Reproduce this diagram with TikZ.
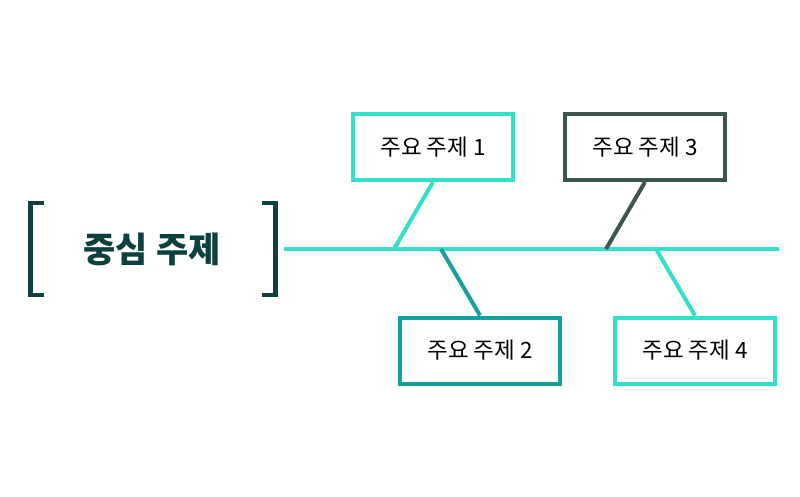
\documentclass[tikz,border=0pt]{standalone}
\usepackage{fontspec}
\setmainfont{Noto Sans CJK KR}
\newfontfamily\krfont{Noto Sans CJK KR}
\definecolor{inkdark}{HTML}{0E4040}
\definecolor{aqua}{HTML}{33E0CC}
\definecolor{tealmid}{HTML}{17A0A0}
\definecolor{slate}{HTML}{3D5550}
\tikzset{
  spine/.style={line width=4pt, draw=aqua},
  bone/.style={line width=4pt, draw=#1},
  topicbox/.style={draw=#1, line width=4pt, fill=white, minimum width=160pt, minimum height=66pt,
    inner sep=0pt, font=\krfont\fontsize{22.5pt}{26pt}\selectfont, text=black},
  bracket/.style={line width=4.5pt, draw=inkdark, line cap=butt}
}
\begin{document}
\begin{tikzpicture}[x=1pt,y=-1pt]
  \useasboundingbox[fill=white] (0,0) rectangle (800,497);

  % central topic with square brackets
  \node[font=\krfont\bfseries\fontsize{35pt}{40pt}\selectfont, text=inkdark] (head) at (152,249) {중심 주제};
  \draw[bracket] (44,203) -- (30.5,203) -- (30.5,295) -- (44,295);
  \draw[bracket] (262,203) -- (275.5,203) -- (275.5,295) -- (262,295);

  % spine
  \coordinate (s0) at (284,249);
  \coordinate (s1) at (394,249);
  \coordinate (s2) at (441,249);
  \coordinate (s3) at (606,249);
  \coordinate (s4) at (656,249);
  \coordinate (s5) at (779,249);
  \draw[spine] (s0) -- (s5);

  % major topics
  \node[topicbox=aqua]    (t1) at (433,147)   {주요 주제 1};
  \node[topicbox=tealmid] (t2) at (480,350.5) {주요 주제 2};
  \node[topicbox=slate]   (t3) at (645,147)   {주요 주제 3};
  \node[topicbox=aqua]    (t4) at (695,350.5) {주요 주제 4};

  % bones
  \draw[bone=aqua]    (t1.south) -- (s1);
  \draw[bone=tealmid] (s2) -- (t2.north);
  \draw[bone=slate]   (t3.south) -- (s3);
  \draw[bone=aqua]    (s4) -- (t4.north);
\end{tikzpicture}
\end{document}
